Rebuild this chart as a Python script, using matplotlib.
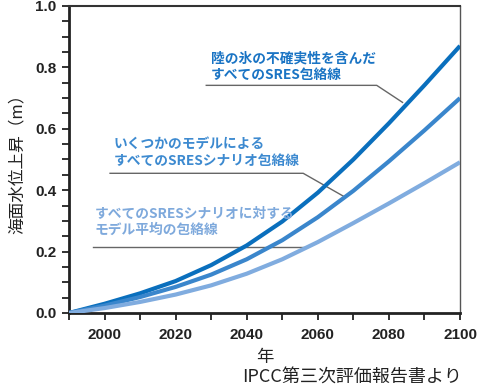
"""
Sea level rise projections (IPCC TAR) - recreated line chart
"""

import matplotlib

matplotlib.use("Agg")
import matplotlib.pyplot as plt
from matplotlib.ticker import MultipleLocator, FormatStrFormatter

# data
years = [1990, 2000, 2010, 2020, 2030, 2040, 2050, 2060, 2070, 2080, 2090, 2100]
upper_land_ice = [0.0, 0.030, 0.064, 0.104, 0.156, 0.220, 0.298, 0.392, 0.500, 0.618, 0.742, 0.870]
upper_models = [0.0, 0.024, 0.052, 0.085, 0.125, 0.175, 0.237, 0.312, 0.398, 0.494, 0.595, 0.700]
upper_model_mean = [0.0, 0.016, 0.036, 0.060, 0.090, 0.128, 0.175, 0.231, 0.293, 0.357, 0.423, 0.491]

labels = [
    "陸の氷の不確実性を含んだ\nすべてのSRES包絡線",
    "いくつかのモデルによる\nすべてのSRESシナリオ包絡線",
    "すべてのSRESシナリオに対する\nモデル平均の包絡線",
]
colors = ["#0a6fbd", "#3a86cc", "#80acdf"]
label_colors = ["#1a74c4", "#3d8ad0", "#7ea9dc"]

jp = ["Noto Sans CJK JP", "DejaVu Sans"]

fig = plt.figure(figsize=(4.8, 3.89), dpi=100)
fig.patch.set_facecolor("white")
ax = fig.add_axes([0.14375, 0.1954, 0.8146, 0.7892])

for series, c in zip([upper_land_ice, upper_models, upper_model_mean], colors):
    ax.plot(years, series, color=c, lw=3.0, solid_capstyle="butt", zorder=3)

ax.set_xlim(1990, 2100)
ax.set_ylim(0, 1.0)
ax.xaxis.set_minor_locator(MultipleLocator(10))
ax.yaxis.set_major_locator(MultipleLocator(0.2))
ax.yaxis.set_minor_locator(MultipleLocator(0.05))
ax.set_xticks([2000, 2020, 2040, 2060, 2080, 2100])
ax.yaxis.set_major_formatter(FormatStrFormatter("%.1f"))

ax.tick_params(which="both", direction="out", length=5, width=1.3, color="#222222",
               top=False, right=False)
ax.tick_params(which="major", labelsize=11)
ax.tick_params(axis="x", which="major", pad=6)
ax.tick_params(axis="y", which="major", pad=4)
for lab in ax.get_xticklabels() + ax.get_yticklabels():
    lab.set_family("Liberation Sans")
    lab.set_fontweight("bold")
    lab.set_color("#222222")

for side in ["left", "bottom"]:
    ax.spines[side].set_linewidth(2.0)
    ax.spines[side].set_color("#222222")
ax.spines["top"].set_linewidth(1.5)
ax.spines["top"].set_color("#333333")
ax.spines["right"].set_linewidth(1.0)
ax.spines["right"].set_color("#555555")

ax.set_ylabel("海面水位上昇（m）", family=jp, fontsize=12, labelpad=7, color="#222222")
ax.set_xlabel("年", family=jp, fontsize=12.5, labelpad=4, color="#222222")

# annotation texts and leader lines (axes fraction coordinates)
text_pos = [(0.363, 0.801), (0.115, 0.523), (0.066, 0.296)]
leaders = [
    [(0.351, 0.7415), (0.787, 0.7415), (0.853, 0.686)],
    [(0.105, 0.455), (0.599, 0.455), (0.701, 0.381)],
    [(0.061, 0.215), (0.604, 0.215)],
]
for lab, col, (tx, ty), pts in zip(labels, label_colors, text_pos, leaders):
    ax.text(tx, ty, lab, transform=ax.transAxes, family=jp, fontsize=9.9,
            fontweight="bold", color=col, va="center", ha="left",
            linespacing=1.2, zorder=4)
    xs = [p[0] for p in pts]
    ys = [p[1] for p in pts]
    ax.plot(xs, ys, transform=ax.transAxes, color="#666666", lw=1.0, zorder=2)

fig.text(0.963, 0.028, "IPCC第三次評価報告書より", family=jp, fontsize=13,
         ha="right", va="center", color="#222222")

fig.savefig("out.png", dpi=100)
